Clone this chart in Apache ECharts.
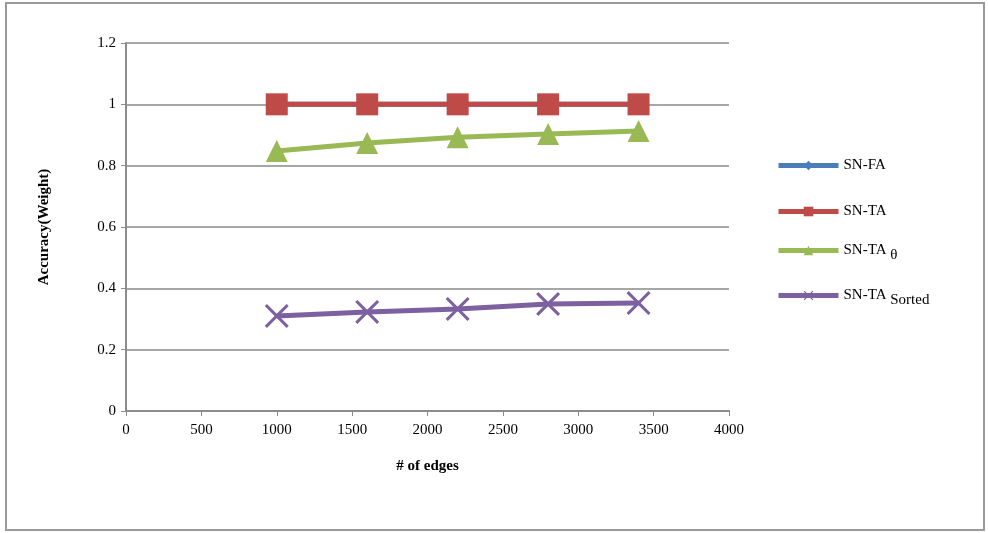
<!DOCTYPE html>
<html>
<head>
<meta charset="utf-8">
<script src="https://cdn.jsdelivr.net/npm/echarts@6/dist/echarts.min.js"></script>
<style>html,body{margin:0;padding:0;background:#fff}#c{width:988px;height:533px}</style>
</head>
<body>
<div id="c"></div>
<script>
var edges = [1000, 1600, 2200, 2800, 3400];
var snFA = [1, 1, 1, 1, 1];
var snTA = [1, 1, 1, 1, 1];
var snTATheta = [0.848, 0.874, 0.893, 0.903, 0.913];
var snTASorted = [0.31, 0.323, 0.333, 0.349, 0.352];
var seriesNames = ['SN-FA', 'SN-TA', 'SN-TA θ', 'SN-TA Sorted'];

function pairs(v){ return edges.map(function(x,i){ return [x, v[i]]; }); }
var FONT = '"Liberation Serif", "DejaVu Serif", serif';
var xPath = 'path://M0,0.9L0.9,0L5,4.1L9.1,0L10,0.9L5.9,5L10,9.1L9.1,10L5,5.9L0.9,10L0,9.1L4.1,5Z';

var chart = echarts.init(document.getElementById('c'));
var legendTops = [158, 204, 243, 288];
var legends = seriesNames.map(function(n, i){
  return {
    data: [n], left: 776, top: legendTops[i], orient: 'vertical',
    itemWidth: 60, itemHeight: 12, itemGap: 4, padding: 0,
    lineStyle: {width: 5},
    textStyle: {fontFamily: FONT, fontSize: 15, color: '#000',
      rich: {a: {fontFamily: FONT, fontSize: 15, color: '#000'},
             s: {fontFamily: FONT, fontSize: 15, color: '#000', padding: [10, 0, 0, 0]}}},
    formatter: function(name){
      var parts = name.split(' ');
      if (parts.length > 1) return '{a|' + parts[0] + '}{s| ' + parts[1] + '}';
      return '{a|' + name + '}';
    }
  };
});
chart.setOption({
  animation: false,
  backgroundColor: '#fff',
  graphic: [{type: 'rect', shape: {x: 6, y: 3, width: 978, height: 527},
    style: {fill: 'none', stroke: '#9a9a9a', lineWidth: 2}, silent: true}],
  legend: legends,
  grid: {left: 126, right: 259, top: 43, bottom: 122},
  xAxis: {
    type: 'value', min: 0, max: 4000, interval: 500,
    name: '# of edges', nameLocation: 'middle', nameGap: 48,
    nameTextStyle: {fontFamily: FONT, fontSize: 15, fontWeight: 'bold', color: '#000'},
    axisLine: {lineStyle: {color: '#8c8c8c', width: 2}},
    axisTick: {show: true, length: 5, lineStyle: {color: '#8c8c8c', width: 1}},
    axisLabel: {fontFamily: FONT, fontSize: 15, color: '#000', margin: 12,
      formatter: function(v){ return String(v); }},
    splitLine: {show: false}
  },
  yAxis: {
    type: 'value', min: 0, max: 1.2, interval: 0.2,
    name: 'Accuracy(Weight)', nameLocation: 'middle', nameGap: 74, nameRotate: 90,
    nameTextStyle: {fontFamily: FONT, fontSize: 15, fontWeight: 'bold', color: '#000'},
    axisLine: {show: true, lineStyle: {color: '#8c8c8c', width: 2}},
    axisTick: {show: true, length: 5, lineStyle: {color: '#8c8c8c', width: 1}},
    axisLabel: {fontFamily: FONT, fontSize: 15, color: '#000', margin: 10,
      formatter: function(v){ return String(Math.round(v*10)/10); }},
    splitLine: {show: true, lineStyle: {color: '#a6a6a6', width: 2}}
  },
  series: [
    {name: seriesNames[0], type: 'line', data: pairs(snFA), symbol: 'diamond', symbolSize: 10,
     lineStyle: {color: '#4a7ebb', width: 5}, itemStyle: {color: '#4a7ebb'}},
    {name: seriesNames[1], type: 'line', data: pairs(snTA), symbol: 'rect', symbolSize: 22,
     lineStyle: {color: '#be4b48', width: 5}, itemStyle: {color: '#be4b48'}},
    {name: seriesNames[2], type: 'line', data: pairs(snTATheta), symbol: 'triangle', symbolSize: 22,
     lineStyle: {color: '#98b954', width: 5}, itemStyle: {color: '#98b954'}},
    {name: seriesNames[3], type: 'line', data: pairs(snTASorted), symbol: xPath, symbolSize: 24,
     lineStyle: {color: '#7d60a0', width: 5}, itemStyle: {color: '#7d60a0'}}
  ]
});
</script>
</body>
</html>
